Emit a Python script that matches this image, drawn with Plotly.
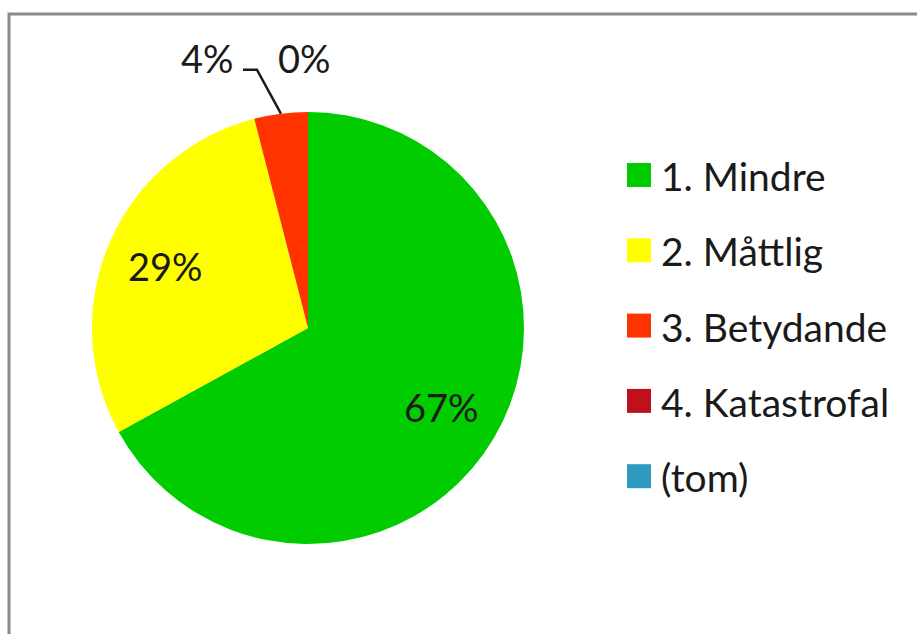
import math
import plotly.graph_objects as go

# Severity categories and their share of incidents (percent)
categories = ["1. Mindre", "2. Måttlig", "3. Betydande", "4. Katastrofal", "(tom)"]
values = [67, 29, 4, 0, 0]
colors = ["#00CC00", "#FFFF00", "#FF3300", "#C0101E", "#2E9AC0"]
# which categories get a percentage label on the pie
labelled = [True, True, True, True, False]

W, H = 917, 634
CX, CY, R = 308, 328, 216          # pie centre and radius in pixels
FONT = "Lato"
TEXT = "#1a1a1a"


def to_paper(x, y):
    return x / W, 1 - y / H


def polar(angle_deg, radius):
    a = math.radians(angle_deg)
    return CX + radius * math.sin(a), CY - radius * math.cos(a)


fig = go.Figure()
fig.add_trace(go.Pie(
    labels=categories,
    values=values,
    marker=dict(colors=colors, line=dict(width=0)),
    sort=False,
    direction="clockwise",
    rotation=0,
    textinfo="none",
    hoverinfo="label+percent",
    showlegend=False,
    domain=dict(x=[(CX - R) / W, (CX + R) / W],
                y=[1 - (CY + R) / H, 1 - (CY - R) / H]),
))

annotations = []
shapes = []

# percentage labels placed from each slice's mid-angle
total = sum(values)
start = 0.0
for cat, v, show in zip(categories, values, labelled):
    span = v / total * 360
    mid = start + span / 2
    start += span
    if not show:
        continue
    txt = f"{round(v / total * 100)}%"
    if v / total >= 0.1:
        x, y = polar(mid, 0.72 * R)
    elif v == 0:
        x, y = polar(mid, 1.25 * R)
        x -= 3
    else:
        # small slice: label pushed left with an elbow leader line
        sx, sy = polar(mid, R)
        ex, ey = sx - 24, sy - 44
        hx = ex - 14
        x, y = hx - 35, ey - 12
        path = "M {} {} L {} {} L {} {}".format(
            *to_paper(sx, sy), *to_paper(ex, ey), *to_paper(hx, ey))
        shapes.append(dict(type="path", xref="paper", yref="paper", path=path,
                           line=dict(color=TEXT, width=2.5)))
    px, py = to_paper(x, y)
    annotations.append(dict(x=px, y=py, xref="paper", yref="paper", text=txt,
                            showarrow=False, xanchor="center", yanchor="middle",
                            font=dict(family=FONT, size=38, color=TEXT)))

# legend: coloured square + category name per row
LX, LY0, LSTEP, SQ = 627, 175, 75.3, 24
for i, (cat, col) in enumerate(zip(categories, colors)):
    yc = LY0 + i * LSTEP
    x0, y0 = to_paper(LX, yc - SQ / 2)
    x1, y1 = to_paper(LX + SQ, yc + SQ / 2)
    shapes.append(dict(type="rect", xref="paper", yref="paper",
                       x0=x0, y0=y0, x1=x1, y1=y1,
                       fillcolor=col, line=dict(width=0)))
    tx, ty = to_paper(LX + SQ + 8, yc + 1)
    annotations.append(dict(x=tx, y=ty, xref="paper", yref="paper", text=cat,
                            showarrow=False, xanchor="left", yanchor="middle",
                            font=dict(family=FONT, size=39, color=TEXT)))

# chart frame (runs off the right and bottom edges)
bx0, by0 = to_paper(9, 14)
bx1, by1 = to_paper(W + 10, H + 10)
shapes.append(dict(type="rect", xref="paper", yref="paper",
                   x0=bx0, y0=by0, x1=bx1, y1=by1,
                   line=dict(color="#8a8a8a", width=3), layer="above"))

fig.update_layout(
    width=W, height=H,
    margin=dict(l=0, r=0, t=0, b=0),
    paper_bgcolor="white",
    plot_bgcolor="white",
    annotations=annotations,
    shapes=shapes,
)

fig.write_html("out.html")
